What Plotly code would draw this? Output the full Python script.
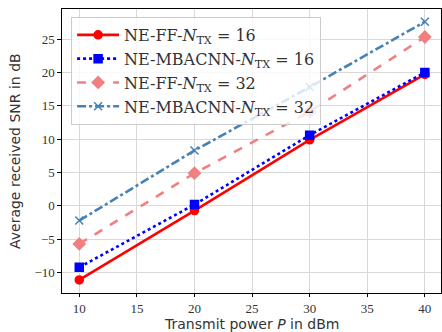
import plotly.graph_objects as go

power_dbm = [10, 20, 30, 40]
ff_16 = [-11.1, -0.7, 9.9, 19.7]
mbacnn_16 = [-9.2, 0.2, 10.6, 20.0]
ff_32 = [-5.7, 4.9, 14.1, 25.3]
mbacnn_32 = [-2.2, 8.3, 17.8, 27.6]

names = [
    "NE-FF-<i>N</i><sub>TX</sub> = 16",
    "NE-MBACNN-<i>N</i><sub>TX</sub> = 16",
    "NE-FF-<i>N</i><sub>TX</sub> = 32",
    "NE-MBACNN-<i>N</i><sub>TX</sub> = 32",
]
series = [ff_16, mbacnn_16, ff_32, mbacnn_32]
colors = ["#ff0000", "#0000ff", "#f08080", "#4682b4"]
dashes = ["solid", "dot", "dash", "dashdot"]
symbols = ["circle", "square", "diamond", "x-thin"]
sizes = [8, 8, 9, 8]

fig = go.Figure()
for n, s, c, d, sym, sz in zip(names, series, colors, dashes, symbols, sizes):
    fig.add_trace(go.Scatter(
        x=power_dbm, y=s, name=n, mode="lines+markers",
        line=dict(color=c, width=2.6, dash=d),
        marker=dict(color=c, symbol=sym, size=sz,
                    line=dict(color=c, width=1.5)),
    ))

serif_legend = "DejaVu Serif"
serif = "Liberation Serif"
sans = "DejaVu Sans"

fig.update_layout(
    width=442, height=332,
    margin=dict(l=62, r=1, t=9, b=39, autoexpand=False),
    plot_bgcolor="white", paper_bgcolor="white",
    showlegend=True,
    legend=dict(
        x=0.024, y=0.972, xanchor="left", yanchor="top",
        bgcolor="rgba(255,255,255,0.8)", bordercolor="#cccccc", borderwidth=1,
        font=dict(family=serif_legend, size=16, color="#333333"),
        itemwidth=42, tracegroupgap=0,
    ),
    xaxis=dict(
        range=[8.5, 41.4], tickvals=[10, 15, 20, 25, 30, 35, 40],
        showgrid=True, gridcolor="#d9d9d9", gridwidth=1,
        showline=True, linecolor="black", linewidth=1.2, mirror=True,
        ticks="outside", ticklen=3, tickcolor="black",
        tickfont=dict(family=serif, size=13, color="#333333"),
        automargin=False, zeroline=False,
    ),
    yaxis=dict(
        range=[-13.05, 29.5], tickvals=[-10, -5, 0, 5, 10, 15, 20, 25],
        showgrid=True, gridcolor="#d9d9d9", gridwidth=1,
        showline=True, linecolor="black", linewidth=1.2, mirror=True,
        ticks="outside", ticklen=3.5, tickcolor="black",
        tickfont=dict(family=serif, size=13, color="#333333"),
        automargin=False, zeroline=False,
    ),
    annotations=[
        dict(text="Transmit power <i>P</i> in dBm", xref="paper", yref="paper",
             x=0.5, y=-0.109, xanchor="center", yanchor="middle",
             showarrow=False, font=dict(family=sans, size=14, color="#333333")),
        dict(text="Average received SNR in dB", xref="paper", yref="paper",
             x=-0.124, y=0.5, xanchor="center", yanchor="middle", textangle=-90,
             showarrow=False, font=dict(family=sans, size=14, color="#333333")),
    ],
)

fig.write_html("out.html", config={"displayModeBar": False})
with open("out.html", encoding="utf-8") as f:
    html = f.read()
html = html.replace("<body>", '<body style="margin:0;padding:0;overflow:hidden">', 1)
with open("out.html", "w", encoding="utf-8") as f:
    f.write(html)
